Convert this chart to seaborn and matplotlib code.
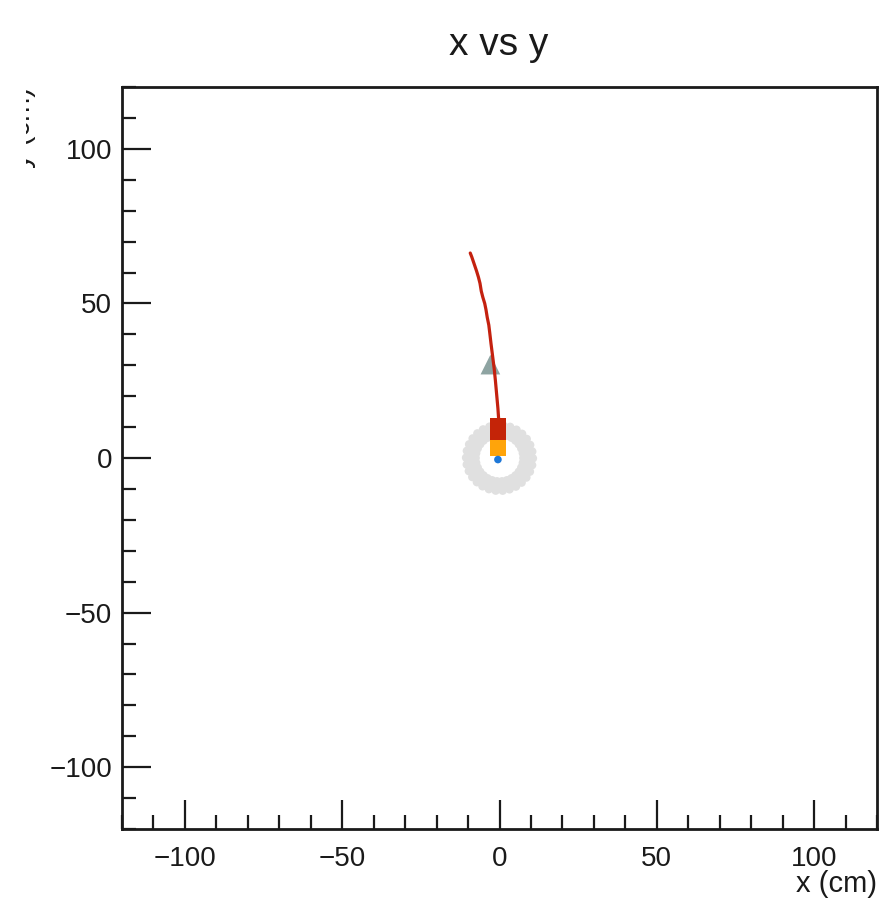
import numpy as np
import pandas as pd
import seaborn as sns
import matplotlib.pyplot as plt
from matplotlib.ticker import MultipleLocator
from matplotlib.transforms import Bbox, TransformedBbox

# ---- event display data (cm) ----
# light grey ring of detector hits around the origin
ring_angle_deg = [0, 12, 24, 36, 48, 60, 72, 84, 96, 108, 120, 132, 144, 156, 168,
                  180, 192, 204, 216, 228, 240, 252, 264, 276, 288, 300, 312, 324, 336, 348]
ring_radii = [7.6, 9.2, 10.6]

# reconstructed track (x, y)
track_x = [-0.2, -0.5, -0.9, -1.3, -1.7, -2.2, -2.7, -3.1, -3.4, -3.9, -4.3,
           -4.7, -5.3, -5.8, -6.2, -6.7, -7.3, -7.8, -8.3, -8.8, -9.3]
track_y = [11.5, 16.0, 20.5, 25.0, 29.0, 33.0, 37.0, 40.5, 43.0, 45.5, 48.0,
           50.0, 52.0, 54.0, 56.5, 58.5, 60.5, 62.0, 63.5, 65.0, 66.3]

# single hits: blue vertex, orange and red boxes, grey triangle
vertex_x, vertex_y = [-0.5], [-0.5]
orange_x, orange_y = [-0.5], [3.3]
red_x, red_y = [-0.5, -0.5], [7.2, 10.2]
tri_x, tri_y = [-2.9], [30.2]

x_ticks = [-100, -50, 0, 50, 100]
y_ticks = [-100, -50, 0, 50, 100]

sns.set_theme(style="white")
plt.rcParams['font.family'] = ['Liberation Sans', 'DejaVu Sans']

fig = plt.figure(figsize=(8.82, 9.08), dpi=100)
ax = fig.add_axes([122 / 882, 1 - 829 / 908, (877 - 122) / 882, (829 - 87) / 908])

# ring hits
ang = np.radians(ring_angle_deg)
ring = pd.DataFrame({
    "x": np.concatenate([r * np.cos(ang + 0.1 * i) for i, r in enumerate(ring_radii)]),
    "y": np.concatenate([r * np.sin(ang + 0.1 * i) for i, r in enumerate(ring_radii)]),
})
sns.scatterplot(data=ring, x="x", y="y", ax=ax, color="#e0e0e0", s=38,
                edgecolor="none", marker="o", zorder=2)

# track
trk = pd.DataFrame({"x": track_x, "y": track_y})
sns.lineplot(data=trk, x="x", y="y", ax=ax, sort=False, color="#c4210f",
             linewidth=2.3, zorder=4)

sns.scatterplot(x=tri_x, y=tri_y, ax=ax, marker="^", s=200, color="#8ea4a2",
                edgecolor="none", zorder=3)
sns.scatterplot(x=red_x, y=red_y, ax=ax, marker="s", s=140, color="#c42408",
                edgecolor="none", zorder=5)
sns.scatterplot(x=orange_x, y=orange_y, ax=ax, marker="s", s=140, color="#ffa40a",
                edgecolor="none", zorder=5)
sns.scatterplot(x=vertex_x, y=vertex_y, ax=ax, marker="o", s=30, color="#1e78d8",
                edgecolor="none", zorder=6)

ax.set_xlim(-120, 120)
ax.set_ylim(-120, 120)
ax.set_xticks(x_ticks)
ax.set_yticks(y_ticks)
ax.xaxis.set_minor_locator(MultipleLocator(10))
ax.yaxis.set_minor_locator(MultipleLocator(10))
ax.set_xticklabels([str(v).replace('-', '\u2212') for v in x_ticks])
ax.set_yticklabels([str(v).replace('-', '\u2212') for v in y_ticks])
ax.tick_params(which="both", direction="in", top=False, right=False,
               bottom=True, left=True, color="#1a1a1a", width=1.6)
ax.tick_params(which="major", length=21, labelsize=20, labelcolor="#1a1a1a")
ax.tick_params(axis="x", which="major", pad=12)
ax.tick_params(axis="y", which="major", pad=7)
ax.tick_params(which="minor", length=10)
for sp in ax.spines.values():
    sp.set_visible(True)
    sp.set_color("#1a1a1a")
    sp.set_linewidth(2.0)
ax.set_xlabel("")
ax.set_ylabel("")

fig.text(499 / 882, 1 - 45 / 908, "x vs y", ha="center", va="center",
         fontsize=28, color="#1a1a1a")
fig.text(877 / 882, 1 - 884 / 908, "x (cm)", ha="right", va="center",
         fontsize=21, color="#1a1a1a")

# y-axis title, drawn mostly beyond the left canvas edge
ylab = fig.text(36 / 882, 1 - 87 / 908, "y (cm)", ha="right", va="top",
                rotation=90, fontsize=21, color="#1a1a1a")
ylab.set_clip_box(TransformedBbox(Bbox([[26 / 882, 0.5], [40 / 882, 1.0]]), fig.transFigure))
ylab.set_clip_on(True)

fig.savefig("out.png", dpi=100, facecolor="white")
